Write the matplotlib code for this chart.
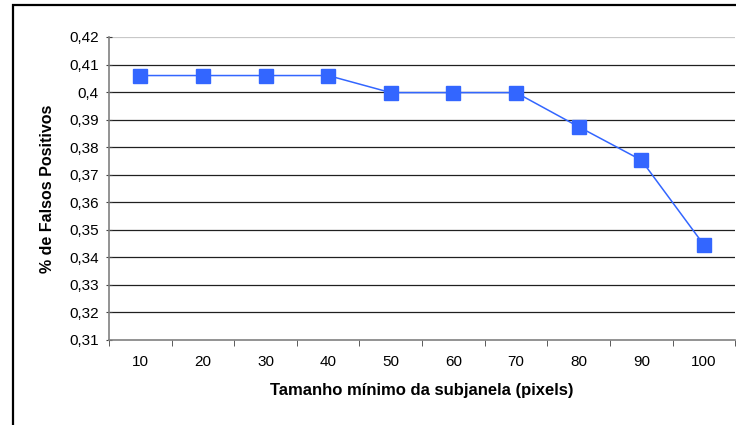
import matplotlib.pyplot as plt
from matplotlib.patches import Rectangle

# Minimum sub-window size vs. false positive rate
tamanhos = ["10", "20", "30", "40", "50", "60", "70", "80", "90", "100"]
falsos_positivos = [0.406, 0.406, 0.406, 0.406, 0.3998, 0.3998, 0.3998, 0.3874, 0.3753, 0.3445]

y_ticks = [0.31, 0.32, 0.33, 0.34, 0.35, 0.36, 0.37, 0.38, 0.39, 0.40, 0.41, 0.42]
y_labels = ["0,31", "0,32", "0,33", "0,34", "0,35", "0,36", "0,37", "0,38", "0,39", "0,4", "0,41", "0,42"]

plt.rcParams["font.family"] = ["Liberation Sans", "DejaVu Sans"]

fig = plt.figure(figsize=(7.36, 4.25), dpi=100)
ax = fig.add_axes([0.148, 0.2, 0.851, 0.713])

# outer chart frame (only left/top edges fall inside the image)
fig.patches.append(Rectangle((12.5 / 736, -0.1), 1.2, (420 / 425) + 0.1,
                             transform=fig.transFigure, fill=False,
                             edgecolor="black", linewidth=1.6))

pos = list(range(len(tamanhos)))
ax.plot(pos, falsos_positivos, color="#3366FF", linewidth=1.1,
        marker="s", markersize=10.5, markeredgecolor="#3366FF")

ax.set_xlim(-0.5, len(tamanhos) - 0.5)
ax.set_ylim(0.31, 0.42)
ax.set_yticks(y_ticks)
ax.set_yticklabels(y_labels, fontsize=11)
ax.set_xticks(pos)
ax.set_xticklabels(tamanhos, fontsize=11)
ax.tick_params(axis="x", length=0, pad=11)
ax.set_xticks([p - 0.5 for p in range(len(tamanhos) + 1)], minor=True)
ax.tick_params(axis="x", which="minor", length=4, color="#404040", direction="out")
ax.tick_params(axis="y", length=5, color="#404040", direction="inout", pad=5)

for y in y_ticks[1:-1]:
    ax.axhline(y, color="#202020", linewidth=0.9, zorder=0)
ax.axhline(0.42, color="#c8c8c8", linewidth=0.9, zorder=0)

for side in ["top", "right"]:
    ax.spines[side].set_visible(False)
ax.spines["left"].set_color("#808080")
ax.spines["bottom"].set_color("#808080")
ax.spines["left"].set_linewidth(1.2)
ax.spines["bottom"].set_linewidth(1.2)

ax.set_ylabel("% de Falsos Positivos", fontsize=11.5, fontweight="bold", labelpad=10)
ax.set_xlabel("Tamanho mínimo da subjanela (pixels)", fontsize=12, fontweight="bold", labelpad=10)

fig.savefig("out.png", dpi=100)
